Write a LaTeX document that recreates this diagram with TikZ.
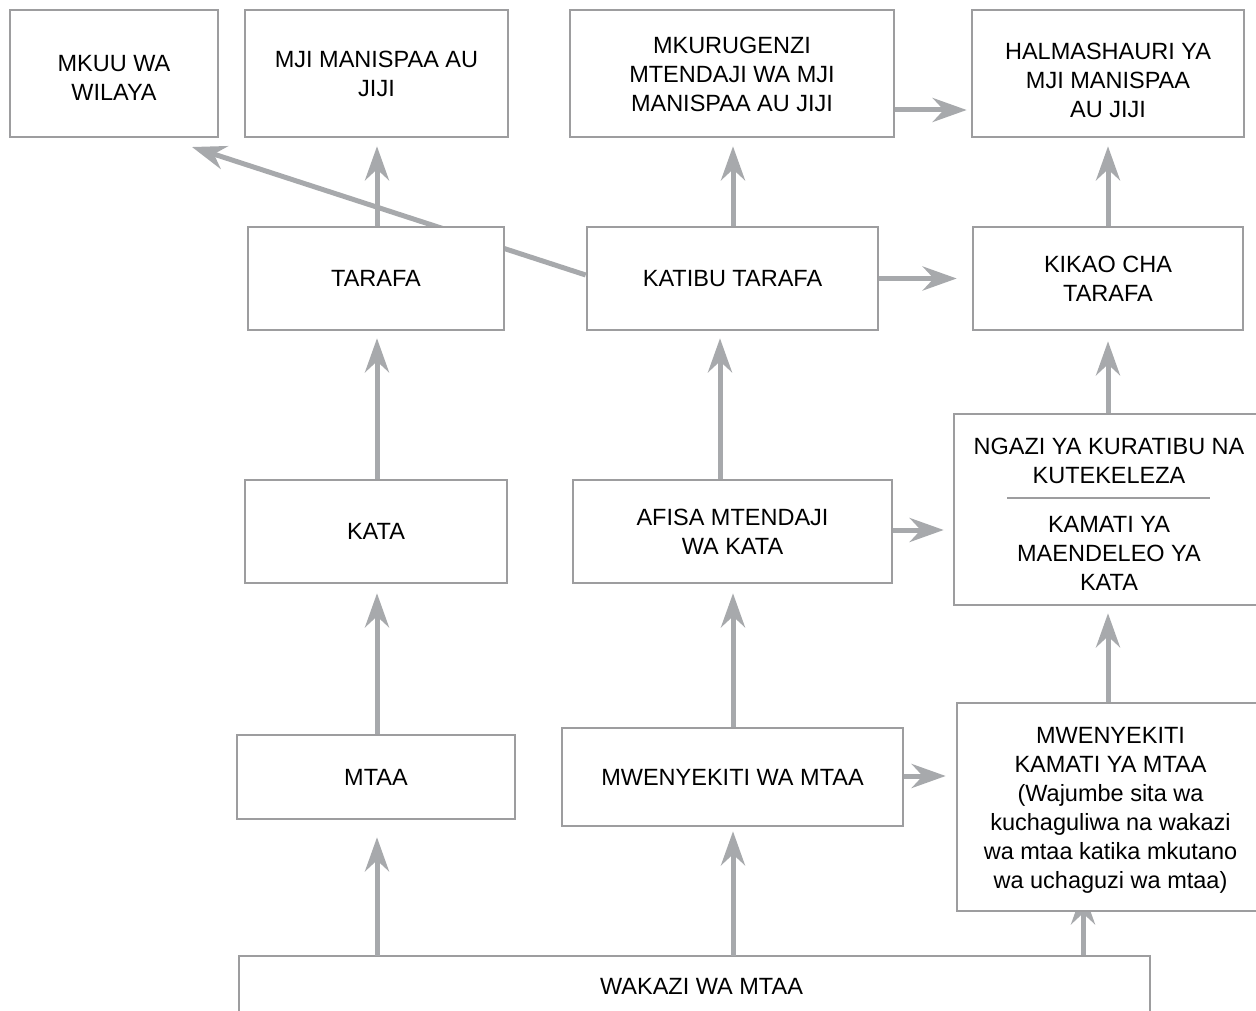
\documentclass[tikz,border=0pt]{standalone}
\usepackage{fontspec}
\setmainfont{Liberation Sans}
\usetikzlibrary{arrows.meta,calc}
\definecolor{boxgray}{HTML}{9D9D9F}
\definecolor{arrowgray}{HTML}{A7A9AC}
\pgfdeclarelayer{bg}
\pgfsetlayers{bg,main}
\newcommand\lowertxt[1]{\rule{0pt}{#1}}
\tikzset{
  box/.style={draw=boxgray, line width=2.6pt, fill=white, align=center, inner sep=0pt,
              font=\fontsize{23.5pt}{29pt}\selectfont},
  lbl/.style={align=center, inner sep=0pt, font=\fontsize{23.5pt}{29pt}\selectfont},
  conn/.style={draw=arrowgray, line width=5pt, shorten >=8pt,
               -{Stealth[length=34pt,width=24pt,inset=11pt]}},
  sepline/.style={draw=boxgray, line width=2pt},
}
\begin{document}
\begin{tikzpicture}[x=1pt,y=-1pt]
\useasboundingbox (0,0) rectangle (1256,1011);
\clip (0,0) rectangle (1256,1011);

% column / row helper coordinates
\coordinate (cL) at (377,0);
\coordinate (cM) at (733,0);
\coordinate (cM2) at (720,0);
\coordinate (cR) at (1108,0);
\coordinate (cW) at (1083,0);
\coordinate (h1) at (0,110);
\coordinate (h3) at (0,530);
\coordinate (h4) at (0,776);
\coordinate (dtip) at (192,147);
\coordinate (wtop) at (701.5,956);

% boxes
\node[box, minimum width=208pt, minimum height=127pt] (mkuu) at (114,73.5) {\lowertxt{25pt}MKUU WA\\WILAYA};
\node[box, minimum width=263pt, minimum height=127pt] (mji) at (376.5,73.5) {MJI MANISPAA AU\\JIJI};
\node[box, minimum width=324pt, minimum height=127pt] (mkur) at (732,73.5) {\lowertxt{19pt}MKURUGENZI\\MTENDAJI WA MJI\\MANISPAA AU JIJI};
\node[box, minimum width=272pt, minimum height=127pt] (halm) at (1108,73.5) {\lowertxt{31pt}HALMASHAURI YA\\MJI MANISPAA\\AU JIJI};

\node[box, minimum width=256pt, minimum height=103pt] (tarafa) at (376,278.5) {TARAFA};
\node[box, minimum width=291pt, minimum height=103pt] (katibu) at (732.5,278.5) {KATIBU TARAFA};
\node[box, minimum width=270pt, minimum height=103pt] (kikao) at (1108,278.5) {KIKAO CHA\\TARAFA};

\node[box, minimum width=262pt, minimum height=103pt] (kata) at (376,531.5) {KATA};
\node[box, minimum width=319pt, minimum height=103pt] (afisa) at (732.5,531.5) {AFISA MTENDAJI\\WA KATA};
\node[box, minimum width=310pt, minimum height=191pt] (ngazi) at (1109,509.5)
  {\lowertxt{25pt}NGAZI YA KURATIBU NA\\KUTEKELEZA\\[20pt]KAMATI YA\\MAENDELEO YA\\KATA};
\draw[sepline] (1007,498) -- (1210,498);

\node[box, minimum width=278pt, minimum height=84pt] (mtaa) at (376,777) {MTAA};
\node[box, minimum width=341pt, minimum height=98pt] (mwen) at (732.5,777) {MWENYEKITI WA MTAA};
\node[box, minimum width=307pt, minimum height=208pt] (kamati) at (1110.5,807)
  {\lowertxt{23pt}MWENYEKITI\\KAMATI YA MTAA\\(Wajumbe sita wa\\kuchaguliwa na wakazi\\wa mtaa katika mkutano\\wa uchaguzi wa mtaa)};

\draw[draw=boxgray, line width=2.6pt] (239,1030) |- (1150,956) -- (1150,1030);
\node[lbl] (wakazi) at (701.5,986) {WAKAZI WA MTAA};

% connectors on background layer
\begin{pgfonlayer}{bg}
\draw[conn, shorten >=0pt] ($(katibu.west)+(0,-3.5)$) -- (dtip);
\draw[conn, shorten >=-22pt] (wtop -| cW) -- (kamati.south -| cW);
\end{pgfonlayer}

% vertical connectors
\draw[conn] (tarafa.north -| cL) -- (mji.south -| cL);
\draw[conn] (katibu.north -| cM) -- (mkur.south -| cM);
\draw[conn] (kikao.north -| cR) -- (halm.south -| cR);
\draw[conn, shorten >=7pt] (kata.north -| cL) -- (tarafa.south -| cL);
\draw[conn, shorten >=7pt] (afisa.north -| cM2) -- (katibu.south -| cM2);
\draw[conn, shorten >=10pt] (ngazi.north -| cR) -- (kikao.south -| cR);
\draw[conn, shorten >=9pt] (mtaa.north -| cL) -- (kata.south -| cL);
\draw[conn, shorten >=9pt] (mwen.north -| cM) -- (afisa.south -| cM);
\draw[conn, shorten >=7pt] (kamati.north -| cR) -- (ngazi.south -| cR);
\draw[conn, shorten >=17pt] (wtop -| cL) -- (mtaa.south -| cL);
\draw[conn, shorten >=4pt] (wtop -| cM) -- (mwen.south -| cM);

% horizontal connectors
\draw[conn, shorten >=4pt] (mkur.east |- h1) -- (halm.west |- h1);
\draw[conn, shorten >=15pt] (katibu.east) -- (kikao.west);
\draw[conn, shorten >=9pt] (afisa.east |- h3) -- (ngazi.west |- h3);
\draw[conn, shorten >=10pt] (mwen.east |- h4) -- (kamati.west |- h4);
\end{tikzpicture}
\end{document}
